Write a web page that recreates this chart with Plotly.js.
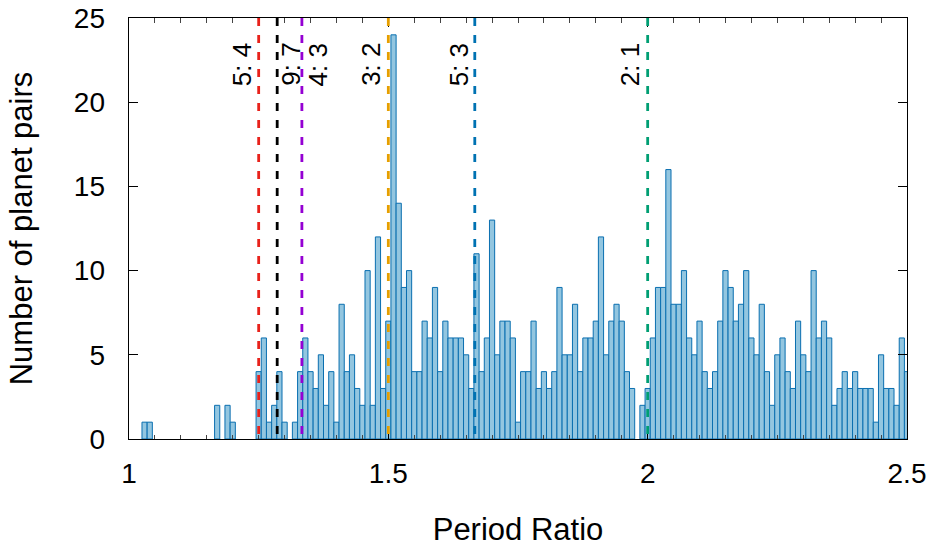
<!DOCTYPE html>
<html><head><meta charset="utf-8">
<script src="https://cdn.plot.ly/plotly-3.0.1.min.js"></script>
<style>html,body{margin:0;padding:0;background:#fff;}#chart{width:936px;height:547px;}</style>
</head><body><div id="chart"></div>
<script>
// Bin centres (period ratio), bin width 0.01
const binCenters = [
 1.00,1.01,1.02,1.03,1.04,1.05,1.06,1.07,1.08,1.09,
 1.10,1.11,1.12,1.13,1.14,1.15,1.16,1.17,1.18,1.19,
 1.20,1.21,1.22,1.23,1.24,1.25,1.26,1.27,1.28,1.29,
 1.30,1.31,1.32,1.33,1.34,1.35,1.36,1.37,1.38,1.39,
 1.40,1.41,1.42,1.43,1.44,1.45,1.46,1.47,1.48,1.49,
 1.50,1.51,1.52,1.53,1.54,1.55,1.56,1.57,1.58,1.59,
 1.60,1.61,1.62,1.63,1.64,1.65,1.66,1.67,1.68,1.69,
 1.70,1.71,1.72,1.73,1.74,1.75,1.76,1.77,1.78,1.79,
 1.80,1.81,1.82,1.83,1.84,1.85,1.86,1.87,1.88,1.89,
 1.90,1.91,1.92,1.93,1.94,1.95,1.96,1.97,1.98,1.99,
 2.00,2.01,2.02,2.03,2.04,2.05,2.06,2.07,2.08,2.09,
 2.10,2.11,2.12,2.13,2.14,2.15,2.16,2.17,2.18,2.19,
 2.20,2.21,2.22,2.23,2.24,2.25,2.26,2.27,2.28,2.29,
 2.30,2.31,2.32,2.33,2.34,2.35,2.36,2.37,2.38,2.39,
 2.40,2.41,2.42,2.43,2.44,2.45,2.46,2.47,2.48,2.49,
 2.50
];
// Number of planet pairs per bin
const pairCounts = [
 0,0,0,1,1,0,0,0,0,0,
 0,0,0,0,0,0,0,2,0,2,
 1,0,0,0,0,4,6,1,2,4,
 1,0,1,4,6,4,3,5,2,4,
 1,8,4,5,3,2,10,2,12,3,
 7,24,14,9,10,4,4,7,6,9,
 4,7,6,6,6,5,3,11,4,6,
 13,5,7,7,6,1,4,4,7,3,
 4,3,4,9,5,5,8,4,6,6,
 7,12,5,7,8,7,4,3,0,2,
 3,6,9,9,16,8,8,10,6,5,
 7,4,3,4,7,10,9,7,8,10,
 6,5,8,4,2,5,6,4,3,7,
 5,4,10,6,7,6,2,3,4,3,
 4,3,3,3,1,5,3,3,2,6,
 4
];
// Mean-motion resonances
const resonanceLabels = ['5: 4','9: 7','4: 3','3: 2','5: 3','2: 1'];
const resonanceRatios = [5/4, 9/7, 4/3, 3/2, 5/3, 2/1];
const resonanceColors = ['#e8221b','#000000','#9400d3','#e69f00','#0072b2','#009e73'];

const xTickVals = [1, 1.5, 2, 2.5];
const xTickText = ['1','1.5','2','2.5'];
const yTickVals = [0,5,10,15,20,25];

// label horizontal offsets (px) from each line
const labelShift = [-17, 13, 16, -18, -16, -18];

const FONT = 'Liberation Sans, Arial, Helvetica, sans-serif';

const trace = {
  type: 'bar',
  x: binCenters,
  y: pairCounts,
  width: 0.01,
  marker: {
    color: '#93c6e0',
    line: {color: '#0a6fb0', width: pairCounts.map(v => v > 0 ? 1 : 0)}
  },
  hoverinfo: 'x+y',
  showlegend: false
};

const shapes = resonanceRatios.map((r, i) => ({
  type: 'line', xref: 'x', yref: 'y',
  x0: r, x1: r, y0: 25, y1: 0,
  line: {color: resonanceColors[i], width: 2.8, dash: '8px,9px'},
  layer: 'above'
}));

const annotations = resonanceRatios.map((r, i) => ({
  x: r, y: 20.9, xref: 'x', yref: 'y',
  text: resonanceLabels[i], textangle: -90,
  showarrow: false, xanchor: 'center', yanchor: 'bottom',
  xshift: labelShift[i], borderpad: 0,
  font: {family: FONT, size: 26, color: '#000'}
}));

const layout = {
  width: 936, height: 547,
  margin: {l: 129, r: 29, t: 18, b: 108},
  paper_bgcolor: '#fff', plot_bgcolor: '#fff',
  font: {family: FONT, size: 28, color: '#000'},
  bargap: 0,
  xaxis: {
    range: [1, 2.5], tickmode: 'array', tickvals: xTickVals, ticktext: xTickText,
    ticks: 'inside', ticklen: 9, tickwidth: 1.3, tickcolor: '#000',
    minor: {dtick: 0.05, ticks: 'inside', ticklen: 4.5, tickwidth: 1, tickcolor: '#444', showgrid: false},
    showline: true, linecolor: '#000', linewidth: 1.4, mirror: 'allticks',
    showgrid: false, zeroline: false, ticklabelstandoff: 9,
    tickfont: {family: FONT, size: 28, color: '#000'},
    title: {text: 'Period Ratio', font: {family: FONT, size: 31, color: '#000'}, standoff: 31}
  },
  yaxis: {
    range: [0, 25], tickmode: 'array', tickvals: yTickVals,
    ticks: 'inside', ticklen: 9, tickwidth: 1.3, tickcolor: '#000',
    showline: true, linecolor: '#000', linewidth: 1.4, mirror: 'allticks',
    showgrid: false, zeroline: false, ticklabelstandoff: 17,
    tickfont: {family: FONT, size: 28, color: '#000'},
    title: {text: 'Number of planet pairs', font: {family: FONT, size: 31, color: '#000'}, standoff: 32}
  },
  shapes: shapes,
  annotations: annotations
};

Plotly.newPlot('chart', [trace], layout, {displayModeBar: false, staticPlot: true});
</script>
</body></html>
